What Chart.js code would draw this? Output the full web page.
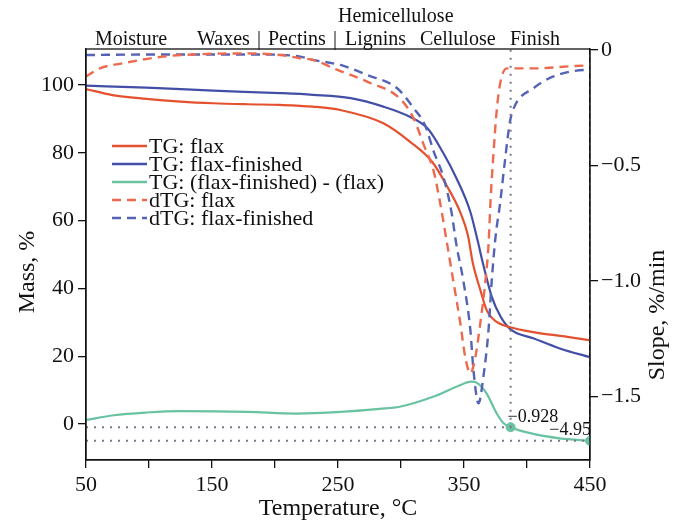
<!DOCTYPE html>
<html>
<head>
<meta charset="utf-8">
<script src="https://cdn.jsdelivr.net/npm/chart.js@4.4.0/dist/chart.umd.min.js"></script>
<style>
  html, body { margin: 0; padding: 0; background: #fff; }
  #wrap { width: 683px; height: 526px; }
</style>
</head>
<body>
<div id="wrap"><canvas id="tg-chart" width="683" height="526"></canvas></div>
<script>
// TG: flax (mass, %)
const tgFlaxT = [50, 71, 98, 125, 151, 178, 204, 230, 252, 286, 307, 325, 336, 347, 353, 357, 363, 368, 376, 386, 405, 432, 450];
const tgFlax  = [98.8, 97.0, 95.9, 95.1, 94.6, 94.3, 94.1, 93.6, 92.6, 88.7, 83.3, 77.2, 70.5, 62.5, 55.8, 47.5, 39.5, 33.6, 30.1, 28.6, 27.1, 25.7, 24.7];

// TG: flax-finished (mass, %)
const tgFinT = [50, 98, 151, 204, 230, 260, 286, 307, 321, 333, 344, 355, 361, 365, 372, 379, 387, 405, 426, 450];
const tgFin  = [99.8, 99.2, 98.3, 97.6, 97.1, 96.1, 93.6, 90.6, 87.2, 80.3, 72.5, 62.6, 53.8, 47.4, 37.6, 31.7, 27.9, 25.3, 22.3, 19.7];

// TG difference (finished - flax), %
const tgDiffT = [50, 72, 98, 125, 178, 217, 252, 283, 299, 326, 344, 356, 360, 368, 376, 381, 387, 405, 426, 450];
const tgDiff  = [1.2, 2.6, 3.4, 3.8, 3.6, 3.1, 3.6, 4.5, 5.1, 8.1, 11.0, 12.5, 12.2, 9.0, 3.1, 0.4, -0.928, -2.9, -4.2, -4.95];

// dTG: flax (slope, %/min)
const dtgFlaxT = [50, 61, 79, 111, 138, 178, 204, 220, 230, 248, 273, 299, 310, 318, 326, 331, 336, 341.5, 347, 351, 355, 359, 363, 367, 369.5, 371, 373, 376, 379, 384, 405, 447, 450];
const dtgFlax  = [-0.115, -0.08, -0.058, -0.029, -0.019, -0.015, -0.022, -0.036, -0.043, -0.083, -0.137, -0.21, -0.296, -0.41, -0.527, -0.66, -0.82, -1.0, -1.18, -1.33, -1.40, -1.33, -1.18, -1.0, -0.84, -0.66, -0.48, -0.26, -0.137, -0.08, -0.08, -0.068, -0.068];

// dTG: flax-finished (slope, %/min)
const dtgFinT = [50, 100, 150, 190, 220, 230, 246, 252, 273, 297, 310, 319, 326, 334, 340, 344, 349.5, 355, 357.5, 361.5, 365.5, 369.5, 372, 375, 378.5, 382.5, 386.5, 390.5, 405, 421, 447, 450];
const dtgFin  = [-0.022, -0.02, -0.02, -0.02, -0.029, -0.043, -0.058, -0.065, -0.108, -0.166, -0.252, -0.325, -0.44, -0.556, -0.70, -0.844, -1.0, -1.21, -1.385, -1.53, -1.41, -1.21, -1.0, -0.81, -0.67, -0.48, -0.31, -0.24, -0.166, -0.115, -0.087, -0.087];

// marked points on the difference curve
const markT = [387, 450];
const markV = [-0.928, -4.95];

// axes
const xTicks = [50, 100, 150, 200, 250, 300, 350, 400, 450];
const xTickLabels = [50, 150, 250, 350, 450];
const massTicks = [0, 20, 40, 60, 80, 100];
const slopeTicks = [0, -0.5, -1.0, -1.5];
const massRange = [-10.6, 110.6];
const slopeRange = [-1.775, 0.004];

const stageLabels = ['Moisture', 'Waxes', '|', 'Pectins', '|', 'Lignins', 'Cellulose', 'Finish'];
const stageX = [95, 197, 257, 268, 333, 345, 420, 510];

const RED = '#e4512f';
const BLUE = '#434fa6';
const GREEN = '#69c2a0';
const RED_D = '#ee6a4e';
const BLUE_D = '#5563b5';
const GUIDE = '#7d7889';
const FONT = "'Liberation Serif', 'Times New Roman', serif";

const toXY = (xs, ys) => xs.map((x, i) => ({ x, y: ys[i] }));

const legendItems = [
  { text: 'TG: flax', color: RED, dash: [] },
  { text: 'TG: flax-finished', color: BLUE, dash: [] },
  { text: 'TG: (flax-finished) - (flax)', color: GREEN, dash: [] },
  { text: 'dTG: flax', color: RED_D, dash: [9, 6] },
  { text: 'dTG: flax-finished', color: BLUE_D, dash: [9, 6] }
];

const fmt = v => String(v).replace('-', '\u2212');

// frame, stage labels, legend, axis titles, value labels
const decorations = {
  id: 'decorations',
  afterDraw(chart) {
    const { ctx, chartArea: a, scales } = chart;
    ctx.save();
    ctx.strokeStyle = '#111';
    ctx.lineWidth = 1.3;
    ctx.strokeRect(a.left, a.top, a.right - a.left, a.bottom - a.top);

    ctx.fillStyle = '#111';
    ctx.textBaseline = 'alphabetic';
    ctx.textAlign = 'left';
    ctx.font = `20px ${FONT}`;
    stageLabels.forEach((t, i) => ctx.fillText(t, stageX[i], 45));
    ctx.fillText('Hemicellulose', 338, 22);

    // legend
    ctx.font = `22px ${FONT}`;
    ctx.textBaseline = 'middle';
    legendItems.forEach((it, i) => {
      const y = 146 + i * 18;
      ctx.strokeStyle = it.color;
      ctx.lineWidth = 2.4;
      ctx.setLineDash(it.dash);
      ctx.beginPath();
      ctx.moveTo(112, y);
      ctx.lineTo(147, y);
      ctx.stroke();
      ctx.fillText(it.text, 149, y + 1);
    });
    ctx.setLineDash([]);

    // value labels at marked points
    ctx.font = `18px ${FONT}`;
    ctx.textBaseline = 'alphabetic';
    const px0 = scales.x.getPixelForValue(markT[0]);
    const py0 = scales.y.getPixelForValue(markV[0]);
    ctx.textAlign = 'left';
    ctx.fillText(fmt(markV[0]), px0 - 3, py0 - 5);
    const px1 = scales.x.getPixelForValue(markT[1]);
    const py1 = scales.y.getPixelForValue(markV[1]);
    ctx.textAlign = 'right';
    ctx.fillText(fmt(markV[1]), px1 + 1, py1 - 6);

    // axis titles
    ctx.font = `24px ${FONT}`;
    ctx.textAlign = 'center';
    ctx.fillText('Temperature, \u00b0C', (a.left + a.right) / 2, 515);
    ctx.save();
    ctx.translate(34, 272);
    ctx.rotate(-Math.PI / 2);
    ctx.fillText('Mass, %', 0, 0);
    ctx.restore();
    ctx.save();
    ctx.translate(664, 315);
    ctx.rotate(-Math.PI / 2);
    ctx.fillText('Slope, %/min', 0, 0);
    ctx.restore();
    ctx.restore();
  }
};

const tickFont = { family: FONT, size: 22 };
const axisGrid = { drawOnChartArea: false, tickLength: 8, color: '#111', lineWidth: 1.3 };
const axisBorder = { color: '#111', width: 1.3 };

function curve(label, xs, ys, color, axis, dash) {
  return {
    label,
    data: toXY(xs, ys),
    yAxisID: axis,
    borderColor: color,
    borderWidth: dash ? 2.4 : 2.2,
    borderDash: dash || [],
    pointRadius: 0,
    fill: false,
    cubicInterpolationMode: 'monotone'
  };
}

function guide(points) {
  return {
    label: 'guide',
    data: points,
    yAxisID: 'y',
    borderColor: GUIDE,
    borderWidth: 2,
    borderDash: [2, 6],
    pointRadius: 0,
    tension: 0,
    fill: false
  };
}

const ctx = document.getElementById('tg-chart').getContext('2d');
new Chart(ctx, {
  type: 'line',
  data: {
    datasets: [
      guide([{ x: 50, y: markV[0] }, { x: markT[0], y: markV[0] }, { x: markT[0], y: massRange[1] }]),
      guide([{ x: 50, y: markV[1] }, { x: markT[1], y: markV[1] }, { x: markT[1], y: massRange[1] }]),
      curve('dTG: flax', dtgFlaxT, dtgFlax, RED_D, 'y2', [9, 6]),
      curve('dTG: flax-finished', dtgFinT, dtgFin, BLUE_D, 'y2', [9, 6]),
      curve('TG: flax', tgFlaxT, tgFlax, RED, 'y'),
      curve('TG: flax-finished', tgFinT, tgFin, BLUE, 'y'),
      curve('TG: (flax-finished) - (flax)', tgDiffT, tgDiff, GREEN, 'y'),
      {
        label: 'marks',
        data: toXY(markT, markV),
        yAxisID: 'y',
        showLine: false,
        pointRadius: 4.5,
        pointBackgroundColor: GREEN,
        pointBorderColor: GREEN
      }
    ]
  },
  options: {
    responsive: false,
    animation: false,
    events: [],
    layout: { padding: { top: 49, left: 0, right: 0, bottom: 0 } },
    plugins: { legend: { display: false }, tooltip: { enabled: false } },
    scales: {
      x: {
        type: 'linear',
        min: 50,
        max: 450,
        afterBuildTicks: s => { s.ticks = xTicks.map(v => ({ value: v })); },
        afterFit: s => { s.height = 66; },
        ticks: {
          autoSkip: false,
          maxRotation: 0,
          padding: 4,
          color: '#111',
          font: tickFont,
          callback: v => xTickLabels.includes(v) ? String(v) : ''
        },
        grid: axisGrid,
        border: axisBorder
      },
      y: {
        position: 'left',
        min: massRange[0],
        max: massRange[1],
        afterBuildTicks: s => { s.ticks = massTicks.map(v => ({ value: v })); },
        afterFit: s => { s.width = 86; },
        ticks: { color: '#111', font: tickFont, padding: 4 },
        grid: axisGrid,
        border: axisBorder
      },
      y2: {
        position: 'right',
        min: slopeRange[0],
        max: slopeRange[1],
        afterBuildTicks: s => { s.ticks = slopeTicks.map(v => ({ value: v })); },
        afterFit: s => { s.width = 93; },
        ticks: {
          color: '#111',
          font: tickFont,
          padding: 3,
          callback: v => v === 0 ? '0' : fmt(v.toFixed(1))
        },
        grid: axisGrid,
        border: axisBorder
      }
    }
  },
  plugins: [decorations]
});
</script>
</body>
</html>
